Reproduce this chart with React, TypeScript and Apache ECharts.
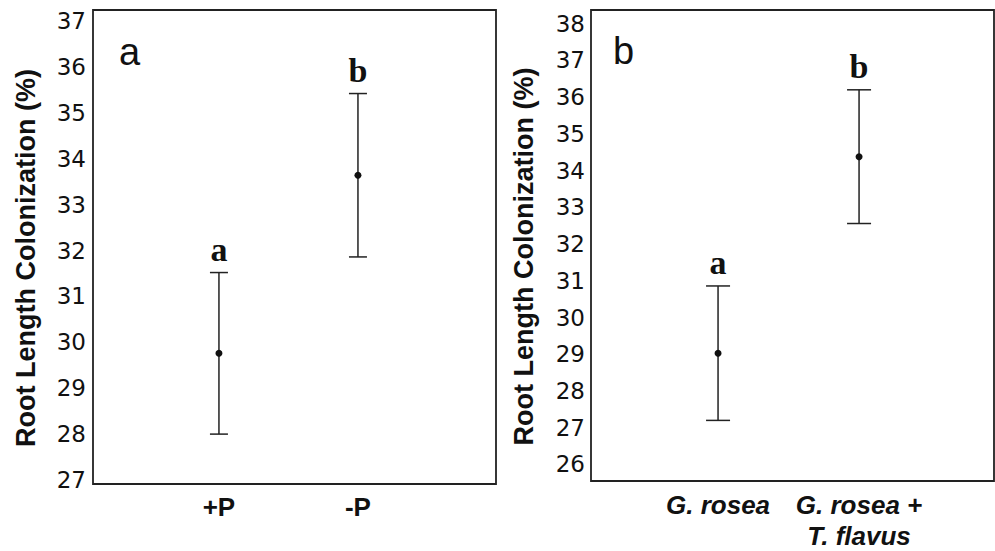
import React, { useEffect, useRef } from "react";
import * as echarts from "echarts";

// Panel a
const catsA = ["+P", "-P"];
const posA = [1, 2];
const meansA = [29.76, 33.64];
const errA = [1.76, 1.78];
const lettersA = ["a", "b"];
const yTicksA = [27, 28, 29, 30, 31, 32, 33, 34, 35, 36, 37];

// Panel b
const catsB = ["G. rosea", "G. rosea +\nT. flavus"];
const posB = [1, 2];
const meansB = [29.03, 34.38];
const errB = [1.83, 1.82];
const lettersB = ["a", "b"];
const yTicksB = [26, 27, 28, 29, 30, 31, 32, 33, 34, 35, 36, 37, 38];

const yTitle = "Root Length Colonization (%)";

function makeRender(letters: string[], capHalf: number) {
  return (params: any, api: any) => {
    const x = api.value(0);
    const m = api.value(1);
    const lo = api.value(2);
    const hi = api.value(3);
    const pM = api.coord([x, m]);
    const pLo = api.coord([x, lo]);
    const pHi = api.coord([x, hi]);
    const st = { stroke: "#222", lineWidth: 1.5 };
    return {
      type: "group",
      children: [
        { type: "line", shape: { x1: pLo[0], y1: pLo[1], x2: pHi[0], y2: pHi[1] }, style: st },
        { type: "line", shape: { x1: pHi[0] - capHalf, y1: pHi[1], x2: pHi[0] + capHalf, y2: pHi[1] }, style: st },
        { type: "line", shape: { x1: pLo[0] - capHalf, y1: pLo[1], x2: pLo[0] + capHalf, y2: pLo[1] }, style: st },
        { type: "circle", shape: { cx: pM[0], cy: pM[1], r: 3.5 }, style: { fill: "#111" } },
        {
          type: "text",
          x: pHi[0],
          y: pHi[1] - 6,
          style: {
            text: letters[params.dataIndex],
            font: 'bold 34px "Liberation Serif"',
            fill: "#111",
            align: "center",
            verticalAlign: "bottom",
          },
        },
      ],
    };
  };
}

export default function App() {
  const ref = useRef<HTMLDivElement>(null);
  useEffect(() => {
    if (!ref.current) return;
    const chart = echarts.init(ref.current, null, { renderer: "svg" });
    const yLabel = {
      fontFamily: "DejaVu Sans",
      fontSize: 23,
      color: "#111",
    };
    const nameStyle = {
      fontFamily: "Liberation Sans",
      fontWeight: "bold",
      fontSize: 27,
      color: "#111",
      padding: [0, 22, 0, 0],
    };
    const option: any = {
      animation: false,
      backgroundColor: "#fff",
      grid: [
        { left: 93, top: 10, width: 403, height: 474, show: true, borderColor: "#222", borderWidth: 1.8, backgroundColor: "transparent" },
        { left: 591, top: 10, width: 403, height: 474, show: true, borderColor: "#222", borderWidth: 1.8, backgroundColor: "transparent" },
      ],
      xAxis: [
        {
          gridIndex: 0,
          type: "value",
          min: 0.094,
          max: 2.993,
          axisLine: { show: false },
          axisTick: { show: false },
          splitLine: { show: false },
          axisLabel: {
            customValues: posA,
            formatter: (v: number) => catsA[posA.indexOf(Math.round(v))] ?? "",
            fontFamily: "Liberation Sans",
            fontWeight: "bold",
            fontSize: 26,
            color: "#111",
            margin: 10,
          },
        },
        {
          gridIndex: 1,
          type: "value",
          min: 0.099,
          max: 2.957,
          axisLine: { show: false },
          axisTick: { show: false },
          splitLine: { show: false },
          axisLabel: {
            customValues: posB,
            formatter: (v: number) => catsB[posB.indexOf(Math.round(v))] ?? "",
            fontFamily: "Liberation Sans",
            fontWeight: "bold",
            fontStyle: "italic",
            fontSize: 26,
            lineHeight: 31,
            color: "#111",
            margin: 8,
          },
        },
      ],
      yAxis: [
        {
          gridIndex: 0,
          type: "value",
          min: 26.913,
          max: 37.24,
          axisLine: { show: false },
          axisTick: { show: false },
          splitLine: { show: false },
          axisLabel: { ...yLabel, customValues: yTicksA, margin: 7 },
          name: yTitle,
          nameLocation: "middle",
          nameGap: 54,
          nameTextStyle: nameStyle,
        },
        {
          gridIndex: 1,
          type: "value",
          min: 25.55,
          max: 38.373,
          axisLine: { show: false },
          axisTick: { show: false },
          splitLine: { show: false },
          axisLabel: { ...yLabel, customValues: yTicksB, margin: 6 },
          name: yTitle,
          nameLocation: "middle",
          nameGap: 54,
          nameTextStyle: nameStyle,
        },
      ],
      graphic: [
        { type: "text", x: 119, y: 71, style: { text: "a", font: '38px "Liberation Sans"', fill: "#111", verticalAlign: "bottom" } },
        { type: "text", x: 613, y: 70, style: { text: "b", font: '38px "Liberation Sans"', fill: "#111", verticalAlign: "bottom" } },
      ],
      series: [
        {
          type: "custom",
          xAxisIndex: 0,
          yAxisIndex: 0,
          renderItem: makeRender(lettersA, 9),
          data: posA.map((x, i) => [x, meansA[i], meansA[i] - errA[i], meansA[i] + errA[i]]),
        },
        {
          type: "custom",
          xAxisIndex: 1,
          yAxisIndex: 1,
          renderItem: makeRender(lettersB, 12),
          data: posB.map((x, i) => [x, meansB[i], meansB[i] - errB[i], meansB[i] + errB[i]]),
        },
      ],
    };
    chart.setOption(option);
    return () => chart.dispose();
  }, []);
  return (
    <div
      ref={ref}
      style={{ position: "fixed", left: 0, top: 0, width: 995, height: 551 }}
    />
  );
}
